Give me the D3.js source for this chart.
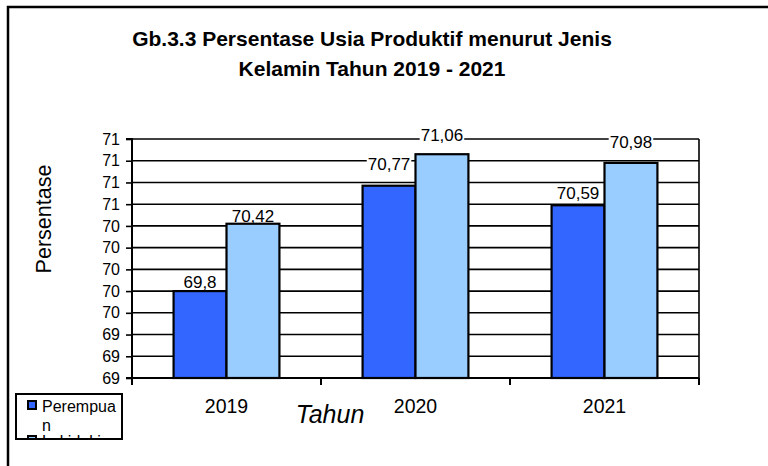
<!DOCTYPE html>
<html><head><meta charset="utf-8">
<script src="https://cdn.jsdelivr.net/npm/d3@7"></script>
<style>body{margin:0;background:#fff}svg{display:block}text{font-family:Arial,"Liberation Sans",sans-serif}</style>
</head><body><svg id="c" width="768" height="466"></svg>
<script>
const categories = ["2019", "2020", "2021"];
const seriesNames = ["Perempuan", "Laki-laki"];
const perempuan = [69.8, 70.77, 70.59];
const lakilaki = [70.42, 71.06, 70.98];
const valueLabels = [["69,8", "70,77", "70,59"], ["70,42", "71,06", "70,98"]];
const yTickValues = [69.0, 69.2, 69.4, 69.6, 69.8, 70.0, 70.2, 70.4, 70.6, 70.8, 71.0, 71.2];
const yTickLabels = ["69", "69", "69", "70", "70", "70", "70", "70", "71", "71", "71", "71"];
const colors = ["#3366FF", "#99CCFF"];
// label gap above bar (layout, px) as placed in the original
const labelGap = [[3, 16, 6], [2, 13, 15]];

const svg = d3.select("#c");
const L = 132, R = 699, T = 139, B = 378;
const FF = "Arial, 'Liberation Sans', sans-serif";

// outer border
svg.append("rect").attr("x", 8).attr("y", 7).attr("width", 800).attr("height", 500)
  .attr("fill", "#fff").attr("stroke", "#000").attr("stroke-width", 2.5);

// title
const title = svg.append("text").attr("text-anchor", "middle").attr("font-weight", "bold")
  .attr("font-size", 21).attr("fill", "#000");
title.append("tspan").attr("x", 372).attr("y", 46).text("Gb.3.3 Persentase Usia Produktif menurut Jenis");
title.append("tspan").attr("x", 372).attr("y", 76).text("Kelamin Tahun 2019 - 2021");

const y = d3.scaleLinear().domain([69.0, 71.2]).range([B, T]);
const x = d3.scaleBand().domain(categories).range([L, R]).paddingInner(0).paddingOuter(0);
const bw = x.bandwidth() * 0.28;
const xs = d3.scaleBand().domain(seriesNames).range([0, 2 * bw]);

// gridlines
svg.append("g").selectAll("line").data(yTickValues).join("line")
  .attr("x1", L).attr("x2", R).attr("y1", d => y(d)).attr("y2", d => y(d))
  .attr("stroke", "#000").attr("stroke-width", 1.6);
// right border
svg.append("line").attr("x1", R).attr("x2", R).attr("y1", T).attr("y2", B)
  .attr("stroke", "#000").attr("stroke-width", 1.6);

// y axis
const yAxis = d3.axisLeft(y).tickValues(yTickValues).tickSize(6).tickPadding(6)
  .tickFormat((d, i) => yTickLabels[i]);
const gy = svg.append("g").attr("transform", `translate(${L},0)`).call(yAxis);
gy.select(".domain").attr("stroke", "#000").attr("stroke-width", 2).attr("d", `M-6,${T}H0V${B}H-6`);
gy.selectAll(".tick line").attr("stroke", "#000").attr("stroke-width", 1.6);
gy.selectAll(".tick text").attr("font-size", 16).attr("fill", "#000").attr("font-family", FF);

// bars
const data = [perempuan, lakilaki];
data.forEach((vals, si) => {
  svg.append("g").selectAll("rect").data(vals).join("rect")
    .attr("x", (d, i) => x(categories[i]) + x.bandwidth() / 2 - bw + xs(seriesNames[si]))
    .attr("y", d => y(d)).attr("width", bw).attr("height", d => B - y(d))
    .attr("fill", colors[si]).attr("stroke", "#000").attr("stroke-width", 2.2);
});

// x axis
const xAxis = d3.axisBottom(x).tickSize(0).tickPadding(35);
const gx = svg.append("g").attr("transform", `translate(0,${B})`).call(xAxis);
gx.select(".domain").attr("stroke", "#000").attr("stroke-width", 2.2).attr("d", `M${L},0H${R}`);
gx.selectAll(".tick text").attr("font-size", 19.5).attr("fill", "#000")
  .attr("font-family", FF).attr("dy", "0");
// category boundary ticks
svg.append("g").selectAll("line").data(categories.concat(["end"])).join("line")
  .attr("x1", (d, i) => i < categories.length ? x(d) : R)
  .attr("x2", (d, i) => i < categories.length ? x(d) : R)
  .attr("y1", B).attr("y2", B + 7).attr("stroke", "#000").attr("stroke-width", 2);

// data labels with white background
data.forEach((vals, si) => {
  vals.forEach((v, i) => {
    const cx = x(categories[i]) + x.bandwidth() / 2 - bw + xs(seriesNames[si]) + bw / 2;
    const base = y(v) - labelGap[si][i];
    const g = svg.append("g");
    const t = g.append("text").attr("x", cx).attr("y", base).attr("text-anchor", "middle")
      .attr("font-size", 17).attr("fill", "#000").text(valueLabels[si][i]);
    const bb = t.node().getBBox();
    g.insert("rect", "text").attr("x", bb.x - 1).attr("y", base - 13)
      .attr("width", bb.width + 2).attr("height", 12).attr("fill", "#fff");
  });
});

// axis titles
svg.append("text").attr("transform", "translate(51,219) rotate(-90)").attr("text-anchor", "middle")
  .attr("font-size", 21.5).attr("fill", "#000").text("Persentase");
svg.append("text").attr("x", 330).attr("y", 423).attr("text-anchor", "middle")
  .attr("font-size", 25).attr("font-style", "italic").attr("fill", "#000").text("Tahun");

// legend (clipped)
const lg = svg.append("g");
svg.append("clipPath").attr("id", "lgclip").append("rect")
  .attr("x", 16).attr("y", 394).attr("width", 106).attr("height", 45);
lg.append("rect").attr("x", 16).attr("y", 394).attr("width", 106).attr("height", 45)
  .attr("fill", "#fff");
const lgi = lg.append("g").attr("clip-path", "url(#lgclip)");
const legendLines = [["Perempua", "n"], ["Laki-laki"]];
const legendBase = [412, 447];
seriesNames.forEach((s, si) => {
  lgi.append("rect").attr("x", 28).attr("y", legendBase[si] - 11).attr("width", 8).attr("height", 8)
    .attr("fill", colors[si]).attr("stroke", "#000").attr("stroke-width", 2);
  legendLines[si].forEach((ln, li) => {
    lgi.append("text").attr("x", 42).attr("y", legendBase[si] + li * 19)
      .attr("font-size", 16).attr("fill", "#000").text(ln);
  });
});
lg.append("rect").attr("x", 16).attr("y", 394).attr("width", 106).attr("height", 45)
  .attr("fill", "none").attr("stroke", "#000").attr("stroke-width", 2);
</script></body></html>
